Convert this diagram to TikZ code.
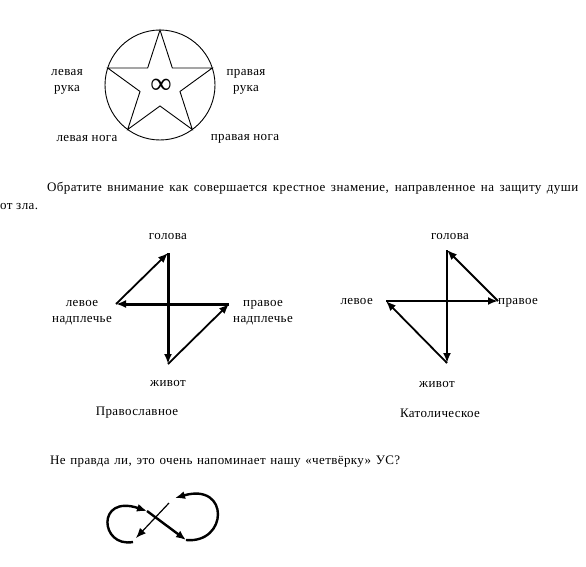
\documentclass[tikz,border=0pt]{standalone}
\usepackage{fontspec}
\setmainfont{Liberation Serif}[LetterSpace=3]
\usetikzlibrary{arrows.meta,positioning}

\tikzset{
  lbl/.style={font=\fontsize{13}{16}\selectfont, inner sep=0pt, align=center},
  bold arrow/.style={-{Latex[length=10pt,width=8pt]}, line width=3pt},
  thin arrow/.style={-{Latex[length=10pt,width=8pt]}, line width=1.8pt}
}

\begin{document}
\begin{tikzpicture}[x=1pt, y=-1pt]
    \useasboundingbox (0,0) rectangle (586,567);

    % star in the circle
    \draw [line width=0.9pt] (160,85) circle (55);
    \draw [line width=0.9pt, shift={(160,85)}] (-90:55) -- (-54:21) -- (-18:55) -- (18:21) -- (54:55)
        -- (90:21) -- (126:55) -- (162:21) -- (198:55) -- (234:21) -- cycle;
    \node [inner sep=0pt, font=\fontsize{30}{30}\selectfont] (inf) at (161,86) {∞};
    \node [lbl] (lhand) at (67,82) {левая\\рука};
    \node [lbl] (rhand) at (246,82) {правая\\рука};
    \node [lbl] (lleg) at (87,139) {левая нога};
    \node [lbl] (rleg) at (245,139) {правая нога};

    \node [lbl, anchor=west] (par1) at (47,188) {\makebox[531pt][s]{Обратите внимание как совершается крестное знамение, направленное на защиту души}};
    \node [lbl, anchor=west] (par2) at (0,207) {от зла.};

    % orthodox
    \coordinate (ohead) at (168,253);
    \coordinate (obelly) at (168,364);
    \coordinate (oleft) at (116,304);
    \coordinate (oright) at (229,304);
    \node [lbl, above=13pt of ohead] (oheadtxt) {голова};
    \node [lbl, left=4pt of oleft, yshift=-9pt] (olefttxt) {левое\\надплечье};
    \node [lbl, right=4pt of oright, yshift=-9pt] (orighttxt) {правое\\надплечье};
    \node [lbl, below=16pt of obelly] (obellytxt) {живот};
    \node [lbl] (orth) at (137,413) {Православное};

    \draw [bold arrow] (ohead) -- (obelly);
    \draw [thin arrow] (obelly) -- (oright);
    \draw [bold arrow] (oright) -- (oleft);
    \draw [thin arrow] (oleft) -- (ohead);

    % catholic
    \coordinate (chead) at (447,250);
    \coordinate (cbelly) at (447,363);
    \coordinate (cleft) at (386,301);
    \coordinate (cright) at (498,301);
    \node [lbl, above=10pt of chead, xshift=3pt] (cheadtxt) {голова};
    \node [lbl, left=13pt of cleft] (clefttxt) {левое};
    \node [lbl, right=0pt of cright, yshift=-2pt] (crighttxt) {правое};
    \node [lbl, below=18pt of cbelly, xshift=-10pt] (cbellytxt) {живот};
    \node [lbl] (cath) at (440,413) {Католическое};

    \draw [bold arrow, line width=2.6pt] (chead) -- (cbelly);
    \draw [thin arrow] (cbelly) -- (cleft);
    \draw [bold arrow, line width=2.6pt] (cleft) -- (cright);
    \draw [thin arrow] (cright) -- (chead);

    \node [lbl, anchor=west] (par3) at (50,462) {\makebox[350pt][s]{Не правда ли, это очень напоминает нашу «четвёрку» УС?}};

    % infinity
    \coordinate (i1) at (133,542);
    \coordinate (i2) at (147,511);
    \coordinate (i3) at (186,540);
    \coordinate (i4) at (175,498);
    \coordinate (i5) at (169,503);
    \coordinate (i6) at (136,538);
    \draw [bold arrow, line width=2.4pt] (i1) .. controls (100,548) and (96,494) .. (i2);
    \draw [bold arrow, line width=2.4pt] (i2) -- (i3);
    \draw [bold arrow, line width=2.4pt] (i3) .. controls (228,544) and (230,482) .. (i4);
    \draw [thin arrow, line width=1.2pt] (i5) -- (i6);
\end{tikzpicture}
\end{document}
